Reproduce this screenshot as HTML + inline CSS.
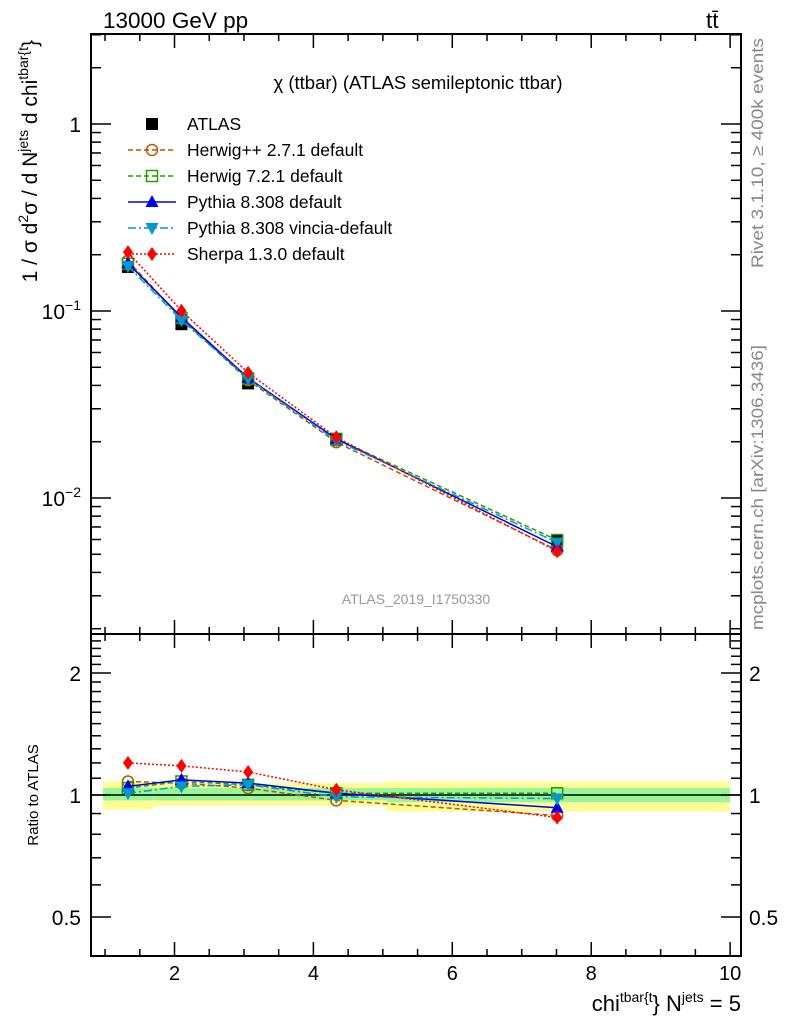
<!DOCTYPE html>
<html><head><meta charset="utf-8"><style>
html,body{margin:0;padding:0;background:#fff;}
svg text{font-family:"Liberation Sans",sans-serif;}
</style></head><body>
<svg id="chart" width="786" height="1024" viewBox="0 0 786 1024" xmlns="http://www.w3.org/2000/svg">
<g id="bands"></g>
<g id="axes"></g>
<g id="series"></g>
<text x="103" y="28" font-size="22.5">13000 GeV pp</text>
<text x="706" y="28" font-size="22.5">tt̄</text>
<text x="418" y="89" font-size="18.5" text-anchor="middle">χ (ttbar) (ATLAS semileptonic ttbar)</text>
<text x="416" y="604" font-size="14" fill="#999" text-anchor="middle">ATLAS_2019_I1750330</text>
<text transform="translate(763,268) rotate(-90)" font-size="17" fill="#888" textLength="230" lengthAdjust="spacingAndGlyphs">Rivet 3.1.10, ≥ 400k events</text>
<text transform="translate(763,630) rotate(-90)" font-size="17" fill="#888" textLength="285" lengthAdjust="spacingAndGlyphs">mcplots.cern.ch [arXiv:1306.3436]</text>
<text transform="translate(37,40) rotate(-90)" font-size="21" text-anchor="end">1 / σ d<tspan font-size="14" dy="-9">2</tspan><tspan dy="9">σ / d N</tspan><tspan font-size="14" dy="-9">jets</tspan><tspan dy="9"> d chi</tspan><tspan font-size="14" dy="-9">tbar{t</tspan><tspan dy="9">}</tspan></text>
<text transform="translate(38,795) rotate(-90)" font-size="15" text-anchor="middle">Ratio to ATLAS</text>
<text x="741" y="1011" font-size="22" text-anchor="end">chi<tspan font-size="14" dy="-9">tbar{t</tspan><tspan dy="9">} N</tspan><tspan font-size="14" dy="-9">jets</tspan><tspan dy="9"> = 5</tspan></text>
<g id="legend"></g>
</svg>
<script>
const xVals = [1.33, 2.1, 3.06, 4.33, 7.51];
const binEdges = [0.97, 1.7, 3.63, 5.05, 10.0];
const atlas = [0.172, 0.085, 0.041, 0.0205, 0.0059];
const ratioHerwigpp = [1.08, 1.07, 1.04, 0.97, 0.89];
const ratioHerwig7 = [1.04, 1.08, 1.06, 1.01, 1.01];
const ratioPythia = [1.05, 1.09, 1.07, 1.01, 0.93];
const ratioVincia = [1.01, 1.05, 1.06, 0.99, 0.98];
const ratioSherpa = [1.2, 1.18, 1.14, 1.03, 0.88];
const yellowUp = [1.08, 1.07, 1.07, 1.08, 1.06];
const yellowDn = [0.92, 0.94, 0.94, 0.91, 0.95];
const greenUp = [1.04, 1.04, 1.04, 1.04, 1.03];
const greenDn = [0.97, 0.97, 0.97, 0.96, 0.97];
const xTickLabels = [2, 4, 6, 8, 10];
const yMainLabels = [1, 0.1, 0.01];
const yRatioLabels = [2, 1, 0.5];

const NS = "http://www.w3.org/2000/svg";
const L = 91, R = 741, T = 34, MB = 634, RB = 956;
const X = v => 174.5 + 69.45 * (v - 2);
const Y = v => 124 - 187 * Math.log10(v);
const YR = v => 795 - 122 * Math.log2(v);
function mk(tag, attrs, parent) { const e = document.createElementNS(NS, tag); for (const k in attrs) e.setAttribute(k, attrs[k]); parent.appendChild(e); return e; }
const axes = document.getElementById('axes'), bands = document.getElementById('bands'), series = document.getElementById('series'), legend = document.getElementById('legend');

for (let i = 0; i < xVals.length; i++) {
  const x0 = X(binEdges[i]), x1 = X(binEdges[i + 1]);
  const y = mk('rect', { x: x0, y: YR(yellowUp[i]), width: x1 - x0, height: YR(yellowDn[i]) - YR(yellowUp[i]), fill: '#fdfd98' }, bands);
  
  
  const g = mk('rect', { x: x0, y: YR(greenUp[i]), width: x1 - x0, height: YR(greenDn[i]) - YR(greenUp[i]), fill: '#98f598' }, bands);
  
  
}
mk('line', { x1: L, x2: R, y1: YR(1), y2: YR(1), stroke: '#000', 'stroke-width': 1.5 }, bands);

mk('rect', { x: L, y: T, width: R - L, height: MB - T, fill: 'none', stroke: '#000', 'stroke-width': 2 }, axes);
mk('rect', { x: L, y: MB, width: R - L, height: RB - MB, fill: 'none', stroke: '#000', 'stroke-width': 2 }, axes);
for (let v = 1; v <= 10.01; v += 0.5) {
  const maj = Math.abs(v - Math.round(v)) < 0.01 && Math.round(v) % 2 === 0;
  const len = maj ? 14 : 7, x = X(v);
  for (const [yb, d] of [[T, 1], [MB, -1], [MB, 1], [RB, -1]]) mk('line', { x1: x, x2: x, y1: yb, y2: yb + d * len, stroke: '#000', 'stroke-width': 1.5 }, axes);
}
xTickLabels.forEach(v => { const t = mk('text', { x: X(v), y: 980, 'font-size': 20, 'text-anchor': 'middle' }, axes); t.textContent = v; });
for (let e = -3; e <= 0; e++) for (let m = 1; m <= 9; m++) {
  const v = m * Math.pow(10, e), y = Y(v);
  if (y < T || y > MB) continue;
  const len = m === 1 ? 20 : 10;
  mk('line', { x1: L, x2: L + len, y1: y, y2: y, stroke: '#000', 'stroke-width': 1.5 }, axes);
  mk('line', { x1: R, x2: R - len, y1: y, y2: y, stroke: '#000', 'stroke-width': 1.5 }, axes);
}
yMainLabels.forEach(v => {
  const t = mk('text', { x: 81, y: Y(v) + 8, 'font-size': 21, 'text-anchor': 'end' }, axes);
  if (v === 1) t.textContent = '1';
  else { const e = Math.round(Math.log10(v)); t.innerHTML = '10<tspan font-size="14" dy="-9">' + (e === -1 ? '−1' : '−2') + '</tspan>'; }
});
for (let v = 0.4; v <= 2.51; v += 0.1) {
  const y = YR(v); if (y < MB || y > RB) continue;
  const maj = [0.5, 1, 2].some(m => Math.abs(m - v) < 0.01);
  const len = maj ? 20 : 10;
  mk('line', { x1: L, x2: L + len, y1: y, y2: y, stroke: '#000', 'stroke-width': 1.5 }, axes);
  mk('line', { x1: R, x2: R - len, y1: y, y2: y, stroke: '#000', 'stroke-width': 1.5 }, axes);
}
yRatioLabels.forEach(v => {
  const t = mk('text', { x: 81, y: YR(v) + 8, 'font-size': 21, 'text-anchor': 'end' }, axes); t.textContent = v;
  const t2 = mk('text', { x: 749, y: YR(v) + 8, 'font-size': 21 }, axes); t2.textContent = v;
});

function marker(kind, color, x, y, p) {
  if (kind === 'sq') mk('rect', { x: x - 6, y: y - 6, width: 12, height: 12, fill: '#000' }, p);
  else if (kind === 'circ') mk('circle', { cx: x, cy: y, r: 5.5, fill: 'none', stroke: color, 'stroke-width': 1.5 }, p);
  else if (kind === 'osq') mk('rect', { x: x - 5.5, y: y - 5.5, width: 11, height: 11, fill: 'none', stroke: color, 'stroke-width': 1.5 }, p);
  else if (kind === 'tri') mk('polygon', { points: `${x},${y - 7} ${x - 6.5},${y + 5} ${x + 6.5},${y + 5}`, fill: color }, p);
  else if (kind === 'itri') mk('polygon', { points: `${x},${y + 7} ${x - 6.5},${y - 5} ${x + 6.5},${y - 5}`, fill: color }, p);
  else if (kind === 'dia') mk('polygon', { points: `${x},${y - 7} ${x + 5},${y} ${x},${y + 7} ${x - 5},${y}`, fill: color }, p);
}
const models = [
  { name: 'Herwig++ 2.7.1 default', key: 'herwigpp', r: ratioHerwigpp, c: '#b35900', k: 'circ', d: '5,3' },
  { name: 'Herwig 7.2.1 default', key: 'herwig7', r: ratioHerwig7, c: '#2e9900', k: 'osq', d: '5,3' },
  { name: 'Pythia 8.308 default', key: 'pythia', r: ratioPythia, c: '#0000ee', k: 'tri', d: '' },
  { name: 'Pythia 8.308 vincia-default', key: 'vincia', r: ratioVincia, c: '#0099cc', k: 'itri', d: '8,3,2,3' },
  { name: 'Sherpa 1.3.0 default', key: 'sherpa', r: ratioSherpa, c: '#ff0000', k: 'dia', d: '2,2' },
];
const ag = mk('g', {}, series);


xVals.forEach((x, i) => marker('sq', '#000', X(x), Y(atlas[i]), ag));
models.forEach(m => {
  const g = mk('g', {}, series);
  
  
  const pm = xVals.map((x, i) => X(x) + ',' + Y(atlas[i] * m.r[i])).join(' ');
  const pr = xVals.map((x, i) => X(x) + ',' + YR(m.r[i])).join(' ');
  const la = { fill: 'none', stroke: m.c, 'stroke-width': 1.5 }; if (m.d) la['stroke-dasharray'] = m.d;
  mk('polyline', Object.assign({ points: pm }, la), g);
  mk('polyline', Object.assign({ points: pr }, la), g);
  xVals.forEach((x, i) => { marker(m.k, m.c, X(x), Y(atlas[i] * m.r[i]), g); marker(m.k, m.c, X(x), YR(m.r[i]), g); });
});
const rows = [{ name: 'ATLAS', k: 'sq', c: '#000' }].concat(models);
rows.forEach((m, i) => {
  const y = 124 + 26 * i;
  const g = mk('g', {}, legend);
  
  
  if (i > 0) { const la = { x1: 128, x2: 176, y1: y, y2: y, stroke: m.c, 'stroke-width': 1.5 }; if (m.d) la['stroke-dasharray'] = m.d; mk('line', la, g); }
  marker(m.k, m.c, 152, y, g);
  const t = mk('text', { x: 187, y: y + 6, 'font-size': 17.5 }, g); t.textContent = m.name;
});
</script>
</body></html>
